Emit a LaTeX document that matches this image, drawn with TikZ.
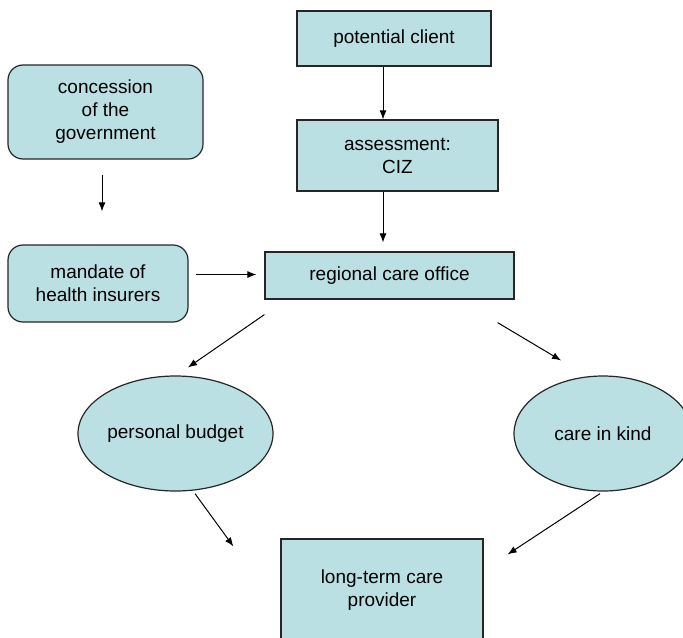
\documentclass[tikz,border=0pt]{standalone}
\usepackage{fontspec}
\setmainfont{Liberation Sans}
\usepackage{tikz}
\usetikzlibrary{arrows.meta,shapes.geometric}
\definecolor{careblue}{RGB}{187,224,227}

\begin{document}
\begin{tikzpicture}[
  x=0.5pt, y=-0.5pt,
  every node/.style={font=\fontsize{9.5}{11.5}\selectfont, align=center, inner sep=0pt},
  box/.style={draw=black!85, line width=0.6pt, fill=careblue},
  roundbox/.style={box, rounded corners=7.5pt},
  oval/.style={box, ellipse},
  flow/.style={-{Latex[length=4.5pt,width=3.5pt]}, line width=0.5pt},
]
\useasboundingbox (0,0) rectangle (683,637);
\node[box, minimum width=97pt, minimum height=27.5pt] (client) at (394,38.5) {potential client};
\node[box, minimum width=100.5pt, minimum height=35.5pt] (assess) at (397.5,155.5) {assessment:\\CIZ};
\node[roundbox, minimum width=97.5pt, minimum height=47pt] (gov) at (105.5,112) {concession\\of the\\government};
\node[roundbox, minimum width=90pt, minimum height=38.5pt] (mandate) at (98,283.5) {mandate of\\health insurers};
\node[box, minimum width=124.5pt, minimum height=23.5pt] (office) at (389.5,275.5) {regional care office};
\node[oval, minimum width=97.5pt, minimum height=57.5pt] (budget) at (175.5,433.5) {personal budget};
\node[oval, minimum width=89pt, minimum height=57.5pt] (kind) at (603,433.5) {care in kind};
\node[box, minimum width=101pt, minimum height=51pt] (ltc) at (382,590) {long-term care\\provider};

\draw[flow] ([xshift=-5.5pt]client.south) -- ([xshift=-7.25pt]assess.north);
\draw[flow, shorten >=4.5pt] ([xshift=-7.25pt]assess.south) -- ([xshift=-3.25pt]office.north);
\draw[flow, shorten <=7.5pt, shorten >=16.5pt] ([xshift=-1.75pt]gov.south) -- ([xshift=2pt]mandate.north);
\draw[flow, shorten <=3.5pt, shorten >=4pt] ([yshift=4.5pt]mandate.east) -- ([yshift=0.5pt]office.west);
\draw[flow] ([yshift=-7.5pt]office.south west) -- ([xshift=6.25pt,yshift=4pt]budget.north);
\draw[flow] ([xshift=-8.5pt,yshift=-11.5pt]office.south east) -- ([xshift=-21pt,yshift=7.5pt]kind.north);
\draw[flow] ([xshift=9.75pt,yshift=-1pt]budget.south) -- ([xshift=-23.5pt,yshift=-4pt]ltc.north west);
\draw[flow] ([xshift=-1.5pt,yshift=-1pt]kind.south) -- ([xshift=12pt,yshift=-8pt]ltc.north east);
\end{tikzpicture}
\end{document}
